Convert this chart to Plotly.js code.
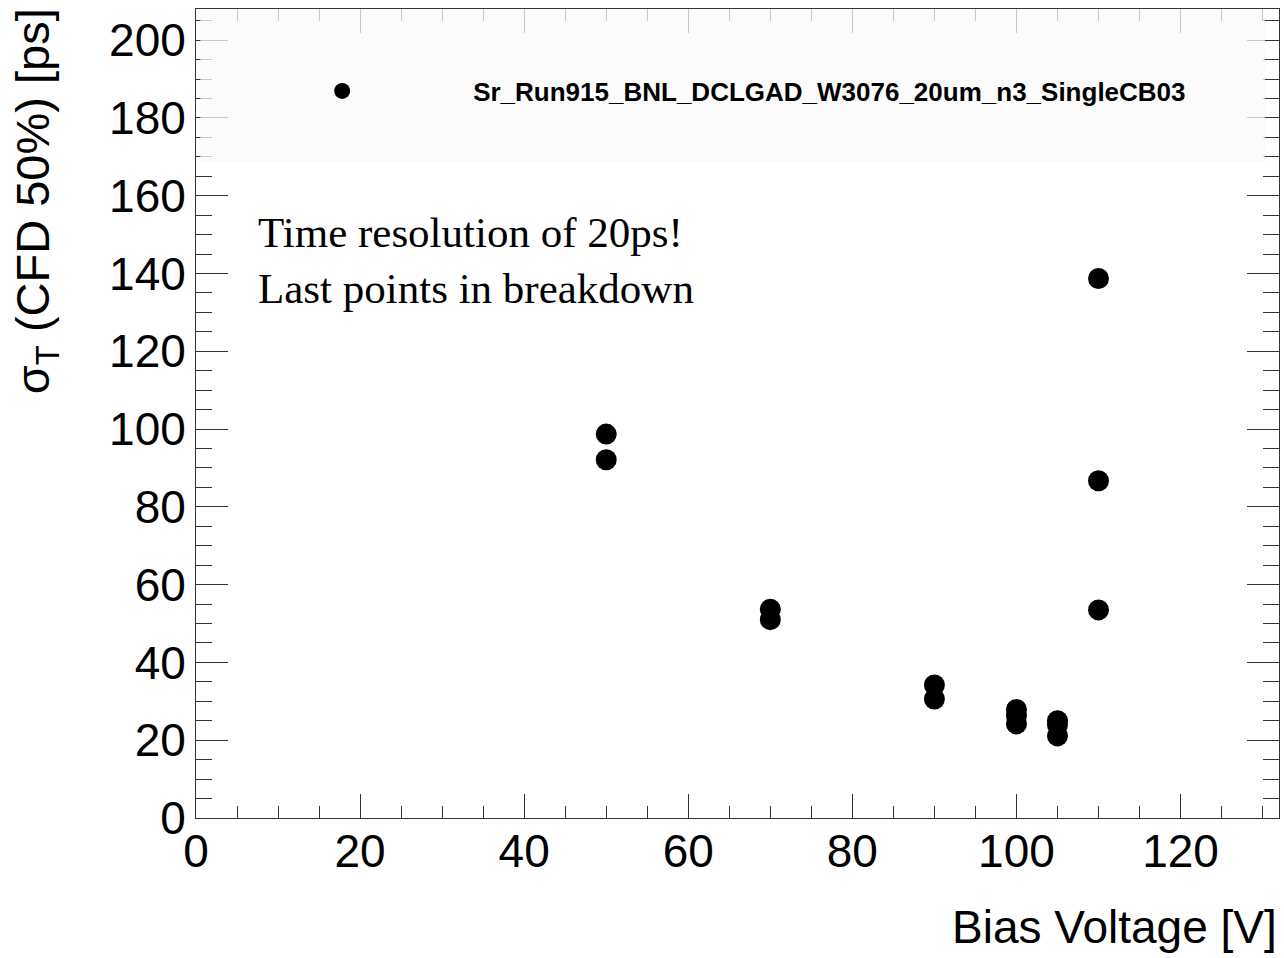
<!DOCTYPE html>
<html>
<head>
<meta charset="utf-8">
<script src="https://cdn.plot.ly/plotly-3.0.1.min.js"></script>
<style>html,body{margin:0;padding:0;background:#fff;}#chart{width:1284px;height:958px;}</style>
</head>
<body>
<div id="chart"></div>
<script>
// Data
const biasVoltage = [50, 50, 70, 70, 90, 90, 100, 100, 100, 105, 105, 105, 110, 110, 110];
const sigmaT      = [98.7, 92.1, 53.7, 51.0, 34.2, 30.6, 27.9, 26.3, 24.2, 25.0, 23.9, 21.1, 138.7, 86.7, 53.5];
const seriesName  = "Sr_Run915_BNL_DCLGAD_W3076_20um_n3_SingleCB03";
const xTickVals   = [0, 20, 40, 60, 80, 100, 120];
const yTickVals   = [0, 20, 40, 60, 80, 100, 120, 140, 160, 180, 200];
const noteLines   = ["Time resolution of 20ps!", "Last points in breakdown"];
const xTitle      = "Bias Voltage [V]";
const yTitle      = "σ<sub>T</sub> (CFD 50%) [ps]";

const SANS = "Liberation Sans, Arial, Helvetica, sans-serif";
const SERIF = "Liberation Serif, Times New Roman, serif";

const trace = {
  type: "scatter",
  mode: "markers",
  x: biasVoltage,
  y: sigmaT,
  name: seriesName,
  marker: {color: "#000", size: 21, symbol: "circle"},
  showlegend: true,
  hoverinfo: "x+y"
};

const axisCommon = {
  showgrid: false,
  zeroline: false,
  showline: true,
  linecolor: "#333",
  linewidth: 1,
  mirror: "ticks",
  ticks: "inside",
  tickcolor: "#333",
  tickwidth: 1,
  tickfont: {family: SANS, size: 46, color: "#000"}
};

const layout = {
  width: 1284,
  height: 958,
  margin: {l: 196, r: 5, t: 9, b: 140},
  paper_bgcolor: "#fff",
  plot_bgcolor: "#fff",
  font: {family: SANS, color: "#000"},
  showlegend: true,
  legend: {
    x: 0.014, xanchor: "left",
    y: 0.8986, yanchor: "middle",
    bgcolor: "rgba(0,0,0,0)",
    borderwidth: 0,
    itemwidth: 252,
    font: {family: SANS, size: 26, weight: "bold", color: "#000"}
  },
  xaxis: Object.assign({}, axisCommon, {
    range: [0, 132],
    tickvals: xTickVals,
    ticklen: 24,
    ticklabelstandoff: -7,
    minor: {dtick: 5, tick0: 0, ticks: "inside", ticklen: 12, tickcolor: "#333", tickwidth: 1, showgrid: false}
  }),
  yaxis: Object.assign({}, axisCommon, {
    range: [0, 208],
    tickvals: yTickVals,
    ticklen: 32,
    minor: {dtick: 5, tick0: 0, ticks: "inside", ticklen: 16, tickcolor: "#333", tickwidth: 1, showgrid: false}
  }),
  shapes: [{
    type: "rect", xref: "paper", yref: "paper", layer: "above",
    x0: 0.004, x1: 0.987, y0: 0.811, y1: 1.0,
    fillcolor: "rgba(250,250,250,0.75)", line: {width: 0}
  }],
  annotations: [
    {
      xref: "paper", yref: "paper", x: 1.0, y: -0.1, xanchor: "right", yanchor: "top",
      text: xTitle, showarrow: false, font: {family: SANS, size: 46, color: "#000"}
    },
    {
      xref: "paper", yref: "paper", x: -0.148, y: 1.003, xanchor: "center", yanchor: "top",
      text: yTitle, textangle: -90, showarrow: false, font: {family: SANS, size: 47, color: "#000"}
    },
    {
      xref: "paper", yref: "paper", x: 0.055, y: 0.755, xanchor: "left", yanchor: "top", align: "left",
      text: noteLines.join("<br>"), showarrow: false, font: {family: SERIF, size: 43, color: "#000"}
    }
  ]
};

Plotly.newPlot("chart", [trace], layout, {staticPlot: true});
</script>
</body>
</html>
